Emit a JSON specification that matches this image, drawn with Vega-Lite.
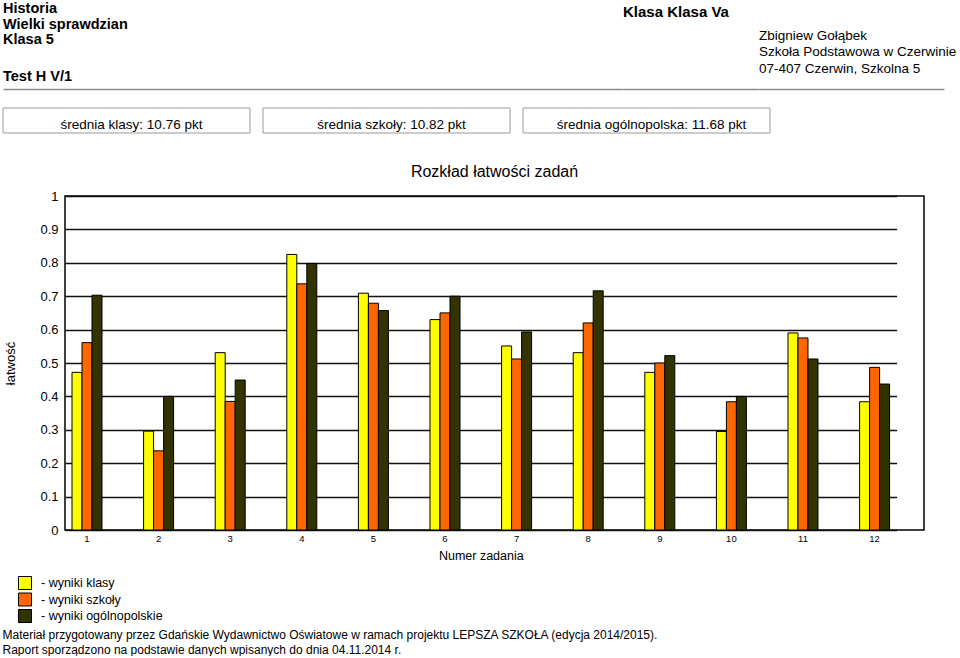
{
  "$schema": "https://vega.github.io/schema/vega-lite/v6.json",
  "padding": {"left": 2, "top": 0, "right": 0, "bottom": 0},
  "config": {
    "font": "Liberation Sans",
    "view": {"stroke": null},
    "title": {"color": "#000", "subtitleColor": "#000"},
    "axis": {"labelColor": "#000", "titleColor": "#000"}
  },
  "title": {
    "text": ["Materiał przygotowany przez Gdańskie Wydawnictwo Oświatowe w ramach projektu LEPSZA SZKOŁA (edycja 2014/2015).", "Raport sporządzono na podstawie danych wpisanych do dnia 04.11.2014 r."],
    "orient": "bottom", "anchor": "start", "fontSize": 12, "fontWeight": "normal", "lineHeight": 15, "offset": 5, "baseline": "top"
  },
  "spacing": 28,
  "vconcat": [
    {
      "spacing": 18,
      "vconcat": [
        {
          "spacing": 0,
          "hconcat": [
            {
              "width": 620, "height": 89,
              "title": {"text": ["Historia", "Wielki sprawdzian", "Klasa 5"], "subtitle": "Test H V/1", "orient": "top", "anchor": "start", "frame": "group", "baseline": "top", "fontSize": 14.5, "fontWeight": "bold", "lineHeight": 15.5, "subtitleFontSize": 14.5, "subtitleFontWeight": "bold", "subtitlePadding": 22, "offset": -84},
              "data": {"values": [{"v": 0.5}]},
              "mark": {"type": "point", "opacity": 0},
              "encoding": {"x": {"field": "v", "type": "quantitative", "scale": {"domain": [0, 1]}, "axis": {"domainColor": "#8c8c8c", "domainWidth": 1.5, "labels": false, "ticks": false, "grid": false, "title": null}}}
            },
            {
              "width": 136, "height": 89,
              "title": {"text": "Klasa Klasa Va", "orient": "top", "anchor": "start", "frame": "group", "baseline": "top", "fontSize": 15, "fontWeight": "bold", "offset": -19.5},
              "data": {"values": [{"v": 0.5}]},
              "mark": {"type": "point", "opacity": 0},
              "encoding": {"x": {"field": "v", "type": "quantitative", "scale": {"domain": [0, 1]}, "axis": {"domainColor": "#8c8c8c", "domainWidth": 1.5, "labels": false, "ticks": false, "grid": false, "title": null}}}
            },
            {
              "width": 185, "height": 89,
              "title": {"text": ["Zbigniew Gołąbek", "Szkoła Podstawowa w Czerwinie", "07-407 Czerwin, Szkolna 5"], "orient": "top", "anchor": "start", "frame": "group", "baseline": "top", "fontSize": 13.5, "fontWeight": "normal", "lineHeight": 16.6, "offset": -75.4},
              "data": {"values": [{"v": 0.5}]},
              "mark": {"type": "point", "opacity": 0},
              "encoding": {"x": {"field": "v", "type": "quantitative", "scale": {"domain": [0, 1]}, "axis": {"domainColor": "#8c8c8c", "domainWidth": 1.5, "labels": false, "ticks": false, "grid": false, "title": null}}}
            }
          ]
        },
        {
          "width": 767, "height": 25,
          "data": {"values": [
            {"miara": "klasa", "tekst": "średnia klasy: 10.76 pkt"},
            {"miara": "szkola", "tekst": "średnia szkoły: 10.82 pkt"},
            {"miara": "polska", "tekst": "średnia ogólnopolska: 11.68 pkt"}
          ]},
          "encoding": {"x": {"field": "miara", "type": "nominal", "sort": null, "scale": {"paddingInner": 0.05, "paddingOuter": 0}, "axis": null}},
          "layer": [
            {"mark": {"type": "rect", "fill": "#ffffff", "stroke": "#999999", "strokeWidth": 1}},
            {"mark": {"type": "text", "fontSize": 13.5, "color": "#000", "dx": 5, "dy": 4}, "encoding": {"text": {"field": "tekst"}}}
          ]
        }
      ]
    },
    {
      "spacing": 0,
      "hconcat": [
        {
          "width": 1, "height": 334,
          "data": {"values": []},
          "mark": {"type": "point", "opacity": 0},
          "encoding": {}
        },
        {
          "width": 859, "height": 334,
          "view": {"stroke": "#000", "strokeWidth": 1.5},
          "title": {"text": "Rozkład łatwości zadań", "fontSize": 16, "fontWeight": "normal", "anchor": "middle", "frame": "group", "baseline": "top", "offset": 10.5},
          "data": {"values": [
            {"zadanie": 1, "seria": "- wyniki klasy", "wartosc": 0.472},
            {"zadanie": 1, "seria": "- wyniki szkoły", "wartosc": 0.561},
            {"zadanie": 1, "seria": "- wyniki ogólnopolskie", "wartosc": 0.703},
            {"zadanie": 2, "seria": "- wyniki klasy", "wartosc": 0.296},
            {"zadanie": 2, "seria": "- wyniki szkoły", "wartosc": 0.237},
            {"zadanie": 2, "seria": "- wyniki ogólnopolskie", "wartosc": 0.4},
            {"zadanie": 3, "seria": "- wyniki klasy", "wartosc": 0.531},
            {"zadanie": 3, "seria": "- wyniki szkoły", "wartosc": 0.385},
            {"zadanie": 3, "seria": "- wyniki ogólnopolskie", "wartosc": 0.449},
            {"zadanie": 4, "seria": "- wyniki klasy", "wartosc": 0.825},
            {"zadanie": 4, "seria": "- wyniki szkoły", "wartosc": 0.737},
            {"zadanie": 4, "seria": "- wyniki ogólnopolskie", "wartosc": 0.798},
            {"zadanie": 5, "seria": "- wyniki klasy", "wartosc": 0.709},
            {"zadanie": 5, "seria": "- wyniki szkoły", "wartosc": 0.679},
            {"zadanie": 5, "seria": "- wyniki ogólnopolskie", "wartosc": 0.657},
            {"zadanie": 6, "seria": "- wyniki klasy", "wartosc": 0.63},
            {"zadanie": 6, "seria": "- wyniki szkoły", "wartosc": 0.65},
            {"zadanie": 6, "seria": "- wyniki ogólnopolskie", "wartosc": 0.7},
            {"zadanie": 7, "seria": "- wyniki klasy", "wartosc": 0.551},
            {"zadanie": 7, "seria": "- wyniki szkoły", "wartosc": 0.512},
            {"zadanie": 7, "seria": "- wyniki ogólnopolskie", "wartosc": 0.593},
            {"zadanie": 8, "seria": "- wyniki klasy", "wartosc": 0.531},
            {"zadanie": 8, "seria": "- wyniki szkoły", "wartosc": 0.62},
            {"zadanie": 8, "seria": "- wyniki ogólnopolskie", "wartosc": 0.716},
            {"zadanie": 9, "seria": "- wyniki klasy", "wartosc": 0.472},
            {"zadanie": 9, "seria": "- wyniki szkoły", "wartosc": 0.5},
            {"zadanie": 9, "seria": "- wyniki ogólnopolskie", "wartosc": 0.522},
            {"zadanie": 10, "seria": "- wyniki klasy", "wartosc": 0.295},
            {"zadanie": 10, "seria": "- wyniki szkoły", "wartosc": 0.384},
            {"zadanie": 10, "seria": "- wyniki ogólnopolskie", "wartosc": 0.4},
            {"zadanie": 11, "seria": "- wyniki klasy", "wartosc": 0.59},
            {"zadanie": 11, "seria": "- wyniki szkoły", "wartosc": 0.575},
            {"zadanie": 11, "seria": "- wyniki ogólnopolskie", "wartosc": 0.512},
            {"zadanie": 12, "seria": "- wyniki klasy", "wartosc": 0.384},
            {"zadanie": 12, "seria": "- wyniki szkoły", "wartosc": 0.487},
            {"zadanie": 12, "seria": "- wyniki ogólnopolskie", "wartosc": 0.437}
          ]},
          "mark": {"type": "bar", "stroke": "#000", "strokeWidth": 1},
          "encoding": {
            "x": {"field": "zadanie", "type": "ordinal", "scale": {"range": [0, 831.6], "paddingInner": 0.581, "paddingOuter": 0.0978}, "axis": {"title": "Numer zadania", "labelAngle": 0, "labelFontSize": 9.5, "labelPadding": 3, "ticks": false, "domain": false, "titleFontSize": 12.5, "titleFontWeight": "normal", "titlePadding": 7}},
            "xOffset": {"field": "seria", "type": "nominal", "sort": ["- wyniki klasy", "- wyniki szkoły", "- wyniki ogólnopolskie"], "scale": {"paddingInner": 0, "paddingOuter": 0}},
            "y": {"field": "wartosc", "type": "quantitative", "scale": {"domain": [0, 1], "nice": false}, "axis": {"title": "łatwość", "values": [0, 0.1, 0.2, 0.3, 0.4, 0.5, 0.6, 0.7, 0.8, 0.9, 1], "format": "~g", "grid": true, "gridColor": "#111", "gridWidth": 1.5, "domain": false, "ticks": false, "labelFontSize": 13, "labelPadding": 7, "titleFontSize": 13, "titleFontWeight": "normal", "titlePadding": 22}},
            "color": {"field": "seria", "type": "nominal", "scale": {"domain": ["- wyniki klasy", "- wyniki szkoły", "- wyniki ogólnopolskie"], "range": ["#ffff00", "#ff6600", "#333300"]}, "legend": {"title": null, "orient": "none", "legendX": 15, "legendY": 576, "symbolType": "square", "symbolSize": 169, "symbolStrokeColor": "#000", "symbolStrokeWidth": 1, "labelFontSize": 12.5, "labelOffset": 9, "rowPadding": -1.5, "padding": 0, "labelColor": "#000"}}
          }
        }
      ]
    }
  ]
}
